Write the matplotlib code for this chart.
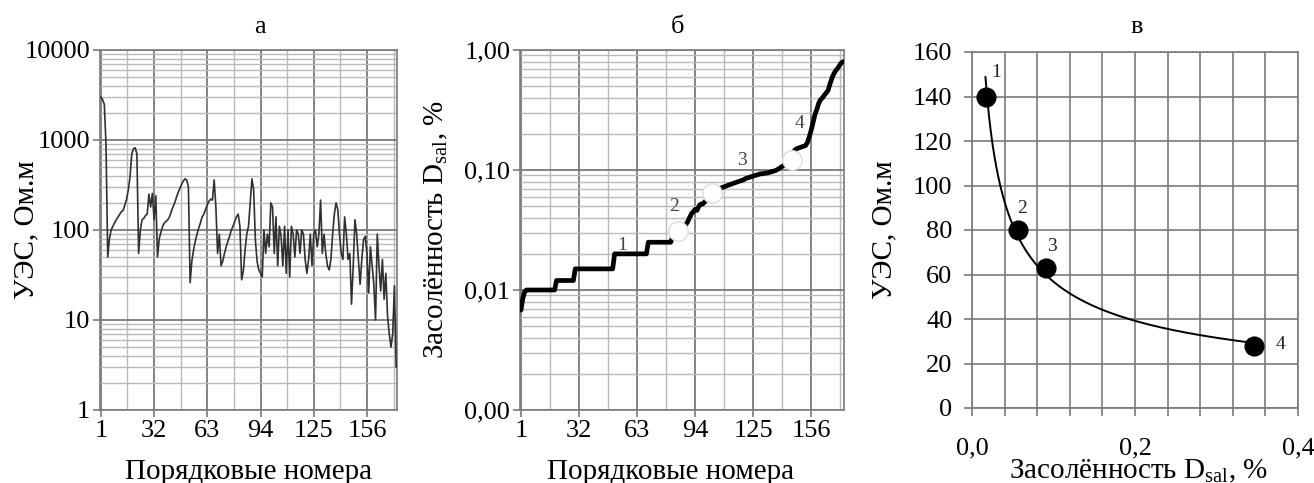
import numpy as np
import matplotlib
matplotlib.use("Agg")
import matplotlib.pyplot as plt
from matplotlib.ticker import FixedLocator, FixedFormatter, NullFormatter

plt.rcParams['font.family'] = ['Liberation Serif', 'DejaVu Serif']
plt.rcParams['mathtext.fontset'] = 'custom'
plt.rcParams['mathtext.rm'] = 'Liberation Serif'

# ---------------- data ----------------
# panel а: resistivity (УЭС, Ом.м) by sample order number
resistivity = [
    3000, 2800, 2500, 900, 50, 80, 100, 110, 120, 130,
    140, 150, 160, 165, 190, 220, 280, 390, 700, 800,
    820, 700, 55, 100, 130, 135, 145, 150, 250, 180,
    255, 130, 240, 50, 80, 95, 110, 120, 125, 130,
    140, 160, 180, 200, 230, 260, 290, 320, 350, 370,
    360, 300, 26, 45, 60, 75, 90, 105, 120, 140,
    150, 170, 190, 210, 220, 215, 360, 180, 55, 90,
    40, 45, 55, 65, 75, 85, 100, 110, 125, 140,
    150, 110, 28, 35, 60, 90, 110, 200, 370, 280,
    78, 45, 36, 33, 30, 100, 55, 90, 65, 200,
    180, 55, 140, 40, 110, 85, 40, 110, 33, 100,
    30, 110, 90, 50, 100, 90, 55, 100, 90, 47,
    33, 47, 90, 40, 90, 100, 65, 90, 215, 55,
    90, 55, 40, 36, 47, 90, 150, 200, 170, 90,
    55, 47, 140, 90, 47, 55, 15, 40, 130, 90,
    47, 25, 47, 78, 85, 55, 20, 65, 40, 25,
    10, 90, 40, 21, 47, 17, 33, 11, 7, 5,
    7, 24, 3,
]

# panel б: sorted salinity D_sal, %
salinity_sorted = [
    0.0068, 0.0085, 0.0097, 0.010, 0.010, 0.010, 0.010, 0.010, 0.010, 0.010,
    0.010, 0.010, 0.010, 0.010, 0.010, 0.010, 0.010, 0.010, 0.010, 0.012,
    0.012, 0.012, 0.012, 0.012, 0.012, 0.012, 0.012, 0.012, 0.012, 0.015,
    0.015, 0.015, 0.015, 0.015, 0.015, 0.015, 0.015, 0.015, 0.015, 0.015,
    0.015, 0.015, 0.015, 0.015, 0.015, 0.015, 0.015, 0.015, 0.015, 0.015,
    0.020, 0.020, 0.020, 0.020, 0.020, 0.020, 0.020, 0.020, 0.020, 0.020,
    0.020, 0.020, 0.020, 0.020, 0.020, 0.020, 0.020, 0.020, 0.025, 0.025,
    0.025, 0.025, 0.025, 0.025, 0.025, 0.025, 0.025, 0.025, 0.025, 0.025,
    0.025, 0.028, 0.029, 0.030, 0.031, 0.032, 0.033, 0.034, 0.035, 0.037,
    0.040, 0.043, 0.045, 0.047, 0.046, 0.050, 0.052, 0.052, 0.054, 0.056,
    0.058, 0.061, 0.064, 0.066, 0.068, 0.069, 0.070, 0.071, 0.072, 0.073,
    0.074, 0.075, 0.076, 0.077, 0.078, 0.079, 0.080, 0.081, 0.082, 0.083,
    0.085, 0.086, 0.087, 0.088, 0.089, 0.090, 0.091, 0.092, 0.093, 0.093,
    0.094, 0.094, 0.095, 0.096, 0.097, 0.098, 0.099, 0.101, 0.103, 0.106,
    0.108, 0.110, 0.113, 0.116, 0.119, 0.122, 0.145, 0.150, 0.152, 0.154,
    0.156, 0.158, 0.160, 0.170, 0.190, 0.215, 0.250, 0.290, 0.320, 0.360,
    0.385, 0.400, 0.420, 0.440, 0.460, 0.520, 0.580, 0.630, 0.670, 0.700,
    0.740, 0.780, 0.800,
]

# zone boundaries (open circles) and zone labels in panel б
boundary_idx = [85, 103, 146]
boundary_val = [0.031, 0.064, 0.121]
zone_names = ['1', '2', '3', '4']
zone_label_idx = [55, 83, 119, 150]
zone_label_val = [0.0237, 0.0497, 0.121, 0.245]

# panel в: mean salinity vs resistivity of groups
group_salinity = [0.017, 0.056, 0.091, 0.346]
group_resistivity = [140, 80, 63, 28]
group_label_x = [0.030, 0.061, 0.098, 0.378]
group_label_y = [151, 89.5, 72.5, 28.4]

order_ticks = [1, 32, 63, 94, 125, 156]
order_minor = [16.5, 47.5, 78.5, 109.5, 140.5, 171.5]
res_ticks = [1, 10, 100, 1000, 10000]
sal_ticks = [0.001, 0.01, 0.1, 1.0]
sal_tick_labels = ['0,00', '0,01', '0,10', '1,00']
c_xticks = [0.0, 0.04, 0.08, 0.12, 0.16, 0.2, 0.24, 0.28, 0.32, 0.36, 0.4]
c_xlabels = ['0,0', '', '', '', '', '0,2', '', '', '', '', '0,4']
c_yticks = [0, 20, 40, 60, 80, 100, 120, 140, 160]

# ---------------- figure ----------------
W, H = 1314, 483
fig = plt.figure(figsize=(W / 100, H / 100), dpi=100)


def box(l, r, t, b):
    return [l / W, 1 - b / H, (r - l) / W, (b - t) / H]


TICK_FS = 19
LAB_FS = 21
MAJ = '#7a7a7a'
MIN = '#b9b9b9'

n = len(resistivity)
order = np.arange(1, n + 1)


def log_minor(lo, hi):
    vals = []
    for e in range(lo, hi):
        for m in range(2, 10):
            vals.append(m * 10.0 ** e)
    return vals


def style_order_axis(ax):
    ax.set_xlim(0.5, n + 0.5)
    ax.xaxis.set_major_locator(FixedLocator(order_ticks))
    ax.xaxis.set_major_formatter(FixedFormatter([str(t) for t in order_ticks]))
    ax.xaxis.set_minor_locator(FixedLocator(order_minor))
    ax.xaxis.set_minor_formatter(NullFormatter())
    ax.grid(True, which='major', axis='both', color=MAJ, lw=1.3, zorder=0)
    ax.grid(True, which='minor', axis='both', color=MIN, lw=1.0, zorder=0)
    ax.set_axisbelow(True)
    ax.tick_params(which='major', direction='out', length=5, width=1.2,
                   color=MAJ, labelsize=TICK_FS, pad=2)
    ax.tick_params(which='minor', length=0)
    for s in ax.spines.values():
        s.set_color(MAJ)
        s.set_linewidth(1.2)


# ---- panel а ----
ax1 = fig.add_axes(box(100, 397, 50, 410))
ax1.set_yscale('log')
ax1.set_ylim(1, 10000)
ax1.yaxis.set_major_locator(FixedLocator(res_ticks))
ax1.yaxis.set_major_formatter(FixedFormatter([str(t) for t in res_ticks]))
ax1.yaxis.set_minor_locator(FixedLocator(log_minor(0, 4)))
ax1.yaxis.set_minor_formatter(NullFormatter())
style_order_axis(ax1)
ax1.plot(order, resistivity, color='#303030', lw=1.2, zorder=3)
ax1.set_ylabel('УЭС, Ом.м', fontsize=LAB_FS)
ax1.yaxis.set_label_coords(-0.205, 0.5)
ax1.set_xlabel('Порядковые номера', fontsize=LAB_FS)
ax1.xaxis.set_label_coords(0.5, -0.135)

# ---- panel б ----
ax2 = fig.add_axes(box(520, 844, 50, 410))
ax2.set_yscale('log')
ax2.set_ylim(0.001, 1.0)
ax2.yaxis.set_major_locator(FixedLocator(sal_ticks))
ax2.yaxis.set_major_formatter(FixedFormatter(sal_tick_labels))
ax2.yaxis.set_minor_locator(FixedLocator(log_minor(-3, 0)))
ax2.yaxis.set_minor_formatter(NullFormatter())
style_order_axis(ax2)
ax2.plot(order, salinity_sorted, color='black', lw=3.4, zorder=3,
         solid_capstyle='round', solid_joinstyle='round')
ax2.plot(boundary_idx, boundary_val, linestyle='none', marker='o',
         markersize=14, markerfacecolor='white', markeredgecolor='#dcdcdc',
         markeredgewidth=1.0, zorder=4)
for lbl, xi, yv in zip(zone_names, zone_label_idx, zone_label_val):
    ax2.text(xi, yv, lbl, fontsize=14, color='#444444', ha='center',
             va='center', zorder=5)
ax2.set_ylabel('Засолённость D$_{\\mathregular{sal}}$, %', fontsize=LAB_FS)
ax2.yaxis.set_label_coords(-0.215, 0.5)
ax2.set_xlabel('Порядковые номера', fontsize=LAB_FS)
ax2.xaxis.set_label_coords(0.465, -0.135)

# ---- panel в ----
ax3 = fig.add_axes(box(972, 1298, 52, 408))
ax3.set_xlim(0, 0.4)
ax3.set_ylim(0, 160)
ax3.xaxis.set_major_locator(FixedLocator(c_xticks))
ax3.xaxis.set_major_formatter(FixedFormatter(c_xlabels))
ax3.yaxis.set_major_locator(FixedLocator(c_yticks))
ax3.grid(True, color=MAJ, lw=1.2, zorder=0)
ax3.set_axisbelow(True)
ax3.tick_params(direction='out', length=6, width=1.2, color=MAJ,
                labelsize=TICK_FS)
ax3.tick_params(axis='x', pad=15)
ax3.tick_params(axis='y', pad=8)
for s in ax3.spines.values():
    s.set_color(MAJ)
    s.set_linewidth(1.2)

# power trendline fitted to the group points
lx = np.log(group_salinity)
ly = np.log(group_resistivity)
b, a = np.polyfit(lx, ly, 1)
xs = np.linspace(min(group_salinity) * 0.97, max(group_salinity), 300)
ax3.plot(xs, np.exp(a) * xs ** b, color='black', lw=1.4, zorder=3)
ax3.plot(group_salinity, group_resistivity, linestyle='none', marker='o',
         markersize=13.5, color='black', zorder=4)
for lbl, xv, yv in zip(zone_names, group_label_x, group_label_y):
    ax3.text(xv, yv, lbl, fontsize=14, color='#222222', ha='center',
             va='center', zorder=5)
ax3.set_ylabel('УЭС, Ом.м', fontsize=LAB_FS)
ax3.yaxis.set_label_coords(-0.23, 0.5)
ax3.set_xlabel('Засолённость D$_{\\mathregular{sal}}$, %', fontsize=LAB_FS)
ax3.xaxis.set_label_coords(0.51, -0.14)

# panel letters
fig.text(260 / W, 1 - 27 / H, 'а', fontsize=19, ha='center', va='center')
fig.text(677 / W, 1 - 27 / H, 'б', fontsize=19, ha='center', va='center')
fig.text(1137 / W, 1 - 27 / H, 'в', fontsize=19, ha='center', va='center')

fig.savefig('out.png', dpi=100)
